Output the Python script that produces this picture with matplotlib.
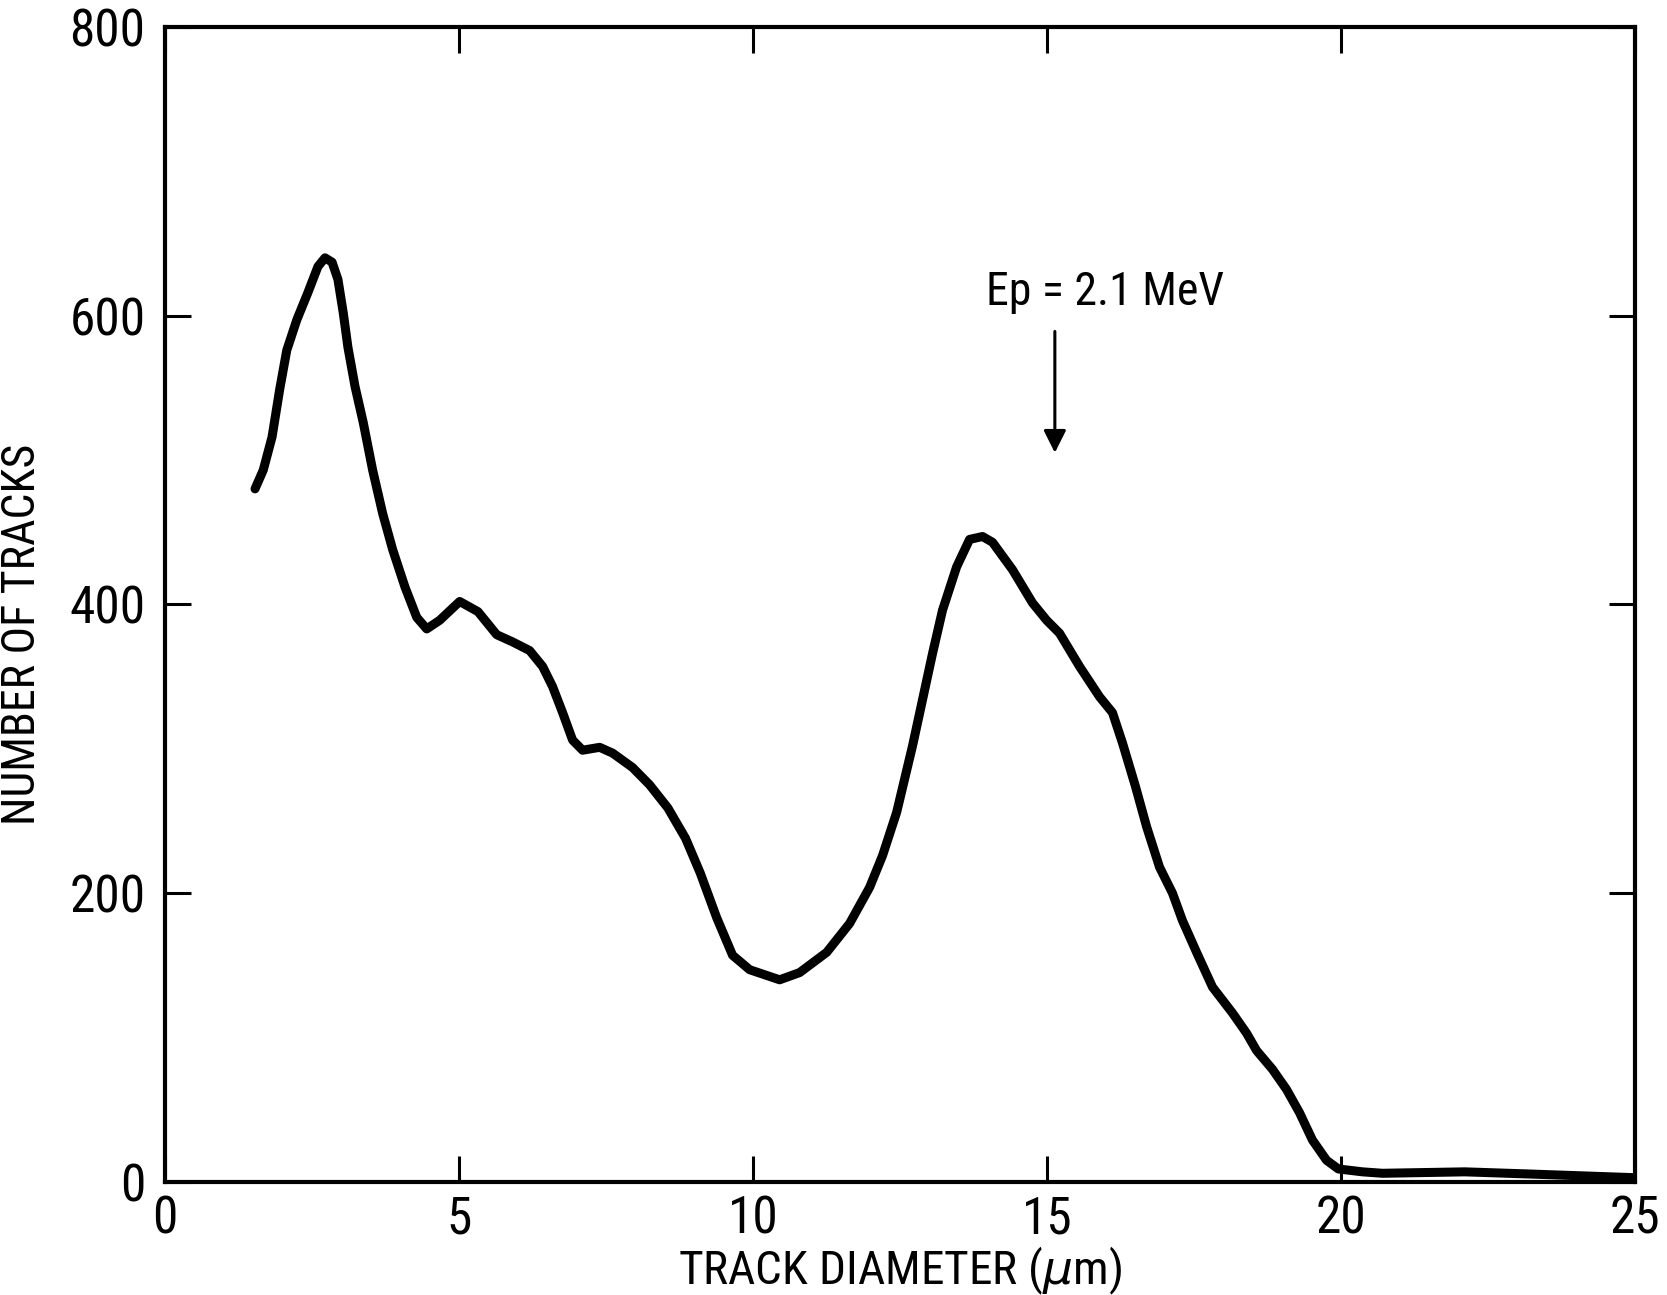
import matplotlib
matplotlib.use('Agg')
import matplotlib.pyplot as plt
from matplotlib import font_manager as fm

# track diameter (um) vs number of tracks
diameter = [1.53, 1.67, 1.82, 1.95, 2.07, 2.24, 2.43, 2.60, 2.72, 2.84, 2.94,
            3.03, 3.11, 3.23, 3.37, 3.53, 3.70, 3.87, 4.08, 4.28, 4.45, 4.67,
            5.01, 5.32, 5.64, 5.91, 6.20, 6.42, 6.59, 6.76, 6.93, 7.10, 7.39,
            7.61, 7.95, 8.24, 8.55, 8.85, 9.10, 9.38, 9.65, 9.94, 10.45, 10.79,
            11.25, 11.64, 11.98, 12.20, 12.44, 12.71, 12.88, 13.05, 13.22, 13.46,
            13.68, 13.90, 14.07, 14.41, 14.75, 14.99, 15.21, 15.55, 15.89, 16.11,
            16.28, 16.50, 16.69, 16.91, 17.13, 17.30, 17.54, 17.81, 18.15, 18.39,
            18.56, 18.83, 19.07, 19.29, 19.51, 19.75, 19.95, 20.36, 20.7, 22.1,
            23.2, 24.95]
tracks = [480, 493, 516, 549, 576, 597, 616, 634, 640, 637, 625,
          602, 578, 551, 526, 493, 463, 438, 412, 391, 383, 389,
          402, 395, 379, 374, 368, 357, 343, 325, 306, 299, 301,
          297, 287, 275, 259, 238, 214, 183, 157, 147, 140, 145,
          159, 179, 204, 226, 256, 302, 334, 366, 396, 426,
          445, 447, 443, 424, 401, 389, 380, 357, 336, 325,
          304, 274, 246, 218, 200, 181, 159, 135, 117, 103,
          91, 78, 64, 48, 29, 15, 9, 7, 6, 7,
          5.5, 3]

xticks = [0, 5, 10, 15, 20, 25]
yticks = [0, 200, 400, 600, 800]
arrow_x = 15.13
arrow_y = (589, 505)
label_text = 'Ep = 2.1 MeV'

names = set(f.name for f in fm.fontManager.ttflist)
fam = 'DejaVu Sans'
for cand in ['Liberation Sans Narrow', 'Roboto Condensed', 'Open Sans Condensed', 'Liberation Sans']:
    if cand in names:
        fam = cand
        break
plt.rcParams['font.family'] = [fam, 'DejaVu Sans']

fig = plt.figure(figsize=(16.67, 12.95), dpi=100)
ax = fig.add_axes([0.099, 0.0873, 0.882, 0.892])

ax.plot(diameter, tracks, color='black', lw=6.5, solid_capstyle='round', solid_joinstyle='round')

ax.set_xlim(0, 25)
ax.set_ylim(0, 800)
ax.set_xticks(xticks)
ax.set_yticks(yticks)
ax.tick_params(direction='in', length=19, width=2.2, top=True, right=True,
               labelsize=37, color='black')
ax.tick_params(axis='x', pad=9)
ax.tick_params(axis='y', pad=14)
for s in ax.spines.values():
    s.set_linewidth(3)

ax.set_xlabel('TRACK DIAMETER ($\\mu$m)', fontsize=34, labelpad=0)
ax.set_ylabel('NUMBER OF TRACKS', fontsize=33)
ax.yaxis.set_label_coords(-0.082, 0.474)

ax.text(15.98, 607, label_text, fontsize=33, ha='center', va='baseline')
ax.annotate('', xy=(arrow_x, arrow_y[1]), xytext=(arrow_x, arrow_y[0]),
            arrowprops=dict(arrowstyle='-|>', color='black', lw=2.2,
                            mutation_scale=34, shrinkA=0, shrinkB=0))

fig.savefig('out.png', dpi=100)
